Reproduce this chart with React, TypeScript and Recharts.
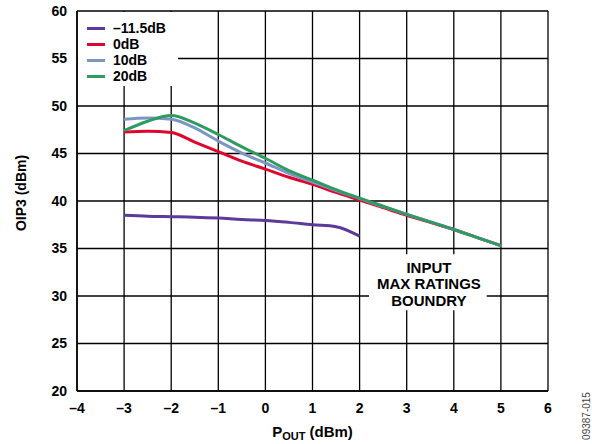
import { CartesianGrid, Legend, Line, LineChart, ReferenceArea, XAxis, YAxis } from 'recharts'

const pout = [-3, -2.5, -2, -1.5, -1, -0.5, 0, 0.5, 1, 1.5, 2, 2.5, 3, 3.5, 4, 4.5, 5]
const oip3Neg11p5 = [38.5, 38.4, 38.35, 38.3, 38.2, 38.05, 37.95, 37.75, 37.5, 37.3, 36.3]
const oip3Zero = [47.25, 47.35, 47.2, 46.2, 45.2, 44.2, 43.35, 42.5, 41.75, 40.9, 40.1, 39.3, 38.5, 37.75, 37.0, 36.15, 35.3]
const oip3Ten = [48.6, 48.75, 48.6, 47.7, 46.3, 45.05, 44.0, 42.9, 42.0, 41.1, 40.25, 39.4, 38.6, 37.8, 37.0, 36.15, 35.3]
const oip3Twenty = [47.4, 48.4, 49.0, 48.2, 47.0, 45.7, 44.5, 43.2, 42.2, 41.2, 40.3, 39.45, 38.6, 37.8, 37.0, 36.15, 35.3]

const xTicks = [-4, -3, -2, -1, 0, 1, 2, 3, 4, 5, 6]
const yTicks = [20, 25, 30, 35, 40, 45, 50, 55, 60]

const series = [
  { key: 'neg', name: '–11.5dB', color: '#5b3a99' },
  { key: 'zero', name: '0dB', color: '#e1052e' },
  { key: 'ten', name: '10dB', color: '#7c95c2' },
  { key: 'twenty', name: '20dB', color: '#2f9a62' },
]

const data = pout.map((x, i) => ({
  x,
  neg: i < oip3Neg11p5.length ? oip3Neg11p5[i] : null,
  zero: oip3Zero[i],
  ten: oip3Ten[i],
  twenty: oip3Twenty[i],
}))

const FONT = '"Liberation Sans", Arial, sans-serif'
const fmt = (v: number) => (v < 0 ? `–${Math.abs(v)}` : `${v}`)

function LegendBox() {
  return (
    <div style={{ background: '#fff', width: 100, height: 74, paddingTop: 8, boxSizing: 'border-box', fontFamily: FONT, fontWeight: 700, fontSize: 14, lineHeight: '16px', color: '#000' }}>
      {series.map((s) => (
        <div key={s.key} style={{ display: 'flex', alignItems: 'center', height: 16 }}>
          <span style={{ display: 'inline-block', width: 18, height: 3, background: s.color, marginLeft: 9, marginRight: 8 }} />
          <span>{s.name}</span>
        </div>
      ))}
    </div>
  )
}

function BoundaryLabel(props: any) {
  const { viewBox } = props
  const cx = viewBox.x + viewBox.width / 2 + 1
  const top = viewBox.y
  return (
    <text x={cx} y={top} textAnchor="middle" fontFamily={FONT} fontWeight={700} fontSize={15} fill="#000">
      <tspan x={cx} y={top + 19}>INPUT</tspan>
      <tspan x={cx} y={top + 35}>MAX RATINGS</tspan>
      <tspan x={cx} y={top + 52}>BOUNDRY</tspan>
    </text>
  )
}

export default function App() {
  return (
    <div style={{ position: 'absolute', left: 0, top: 0, width: 592, height: 444, background: '#fff' }}>
      <LineChart width={592} height={444} data={data} margin={{ top: 11, right: 44, bottom: 0, left: 0 }}>
        <CartesianGrid stroke="#000" strokeWidth={1.3} />
        <XAxis
          type="number"
          dataKey="x"
          domain={[-4, 6]}
          ticks={xTicks}
          tickFormatter={fmt}
          height={53}
          axisLine={{ stroke: '#000', strokeWidth: 1.5 }}
          tickLine={false}
          tickSize={0}
          tickMargin={12}
          tick={{ fill: '#000', fontSize: 14, fontWeight: 700, fontFamily: FONT }}
          label={(p: any) => {
            const cx = p.viewBox.x + p.viewBox.width / 2
            return (
              <text x={cx} y={437} textAnchor="middle" fontFamily={FONT} fontWeight={700} fontSize={15} fill="#000">
                P<tspan fontSize={11} dy={3}>OUT</tspan>
                <tspan dy={-3}> (dBm)</tspan>
              </text>
            )
          }}
        />
        <YAxis
          type="number"
          domain={[20, 60]}
          ticks={yTicks}
          width={77}
          axisLine={{ stroke: '#000', strokeWidth: 1.5 }}
          tickLine={false}
          tickSize={0}
          tickMargin={10}
          tick={{ fill: '#000', fontSize: 14, fontWeight: 700, fontFamily: FONT }}
          label={() => (
            <text x={26} y={193} transform="rotate(-90 26 193)" textAnchor="middle" fontFamily={FONT} fontWeight={700} fontSize={14} fill="#000">
              OIP3 (dBm)
            </text>
          )}
        />
        <ReferenceArea x1={2.2} x2={4.7} y1={28.5} y2={34.4} fill="#fff" fillOpacity={1} stroke="none" label={BoundaryLabel} />
        <Legend
          layout="vertical"
          align="center"
          verticalAlign="middle"
          content={() => <LegendBox />}
          wrapperStyle={{ position: 'absolute', left: 78, top: 12, width: 100, height: 74 }}
        />
        {series.map((s) => (
          <Line
            key={s.key}
            type="monotone"
            dataKey={s.key}
            name={s.name}
            stroke={s.color}
            strokeWidth={3}
            dot={false}
            isAnimationActive={false}
            connectNulls={false}
          />
        ))}
      </LineChart>
      <svg width={592} height={444} style={{ position: 'absolute', left: 0, top: 0, pointerEvents: 'none' }}>
        <text x={590} y={416} transform="rotate(-90 590 416)" textAnchor="middle" fontFamily={FONT} fontSize={10} fill="#444">
          09387-015
        </text>
      </svg>
    </div>
  )
}
